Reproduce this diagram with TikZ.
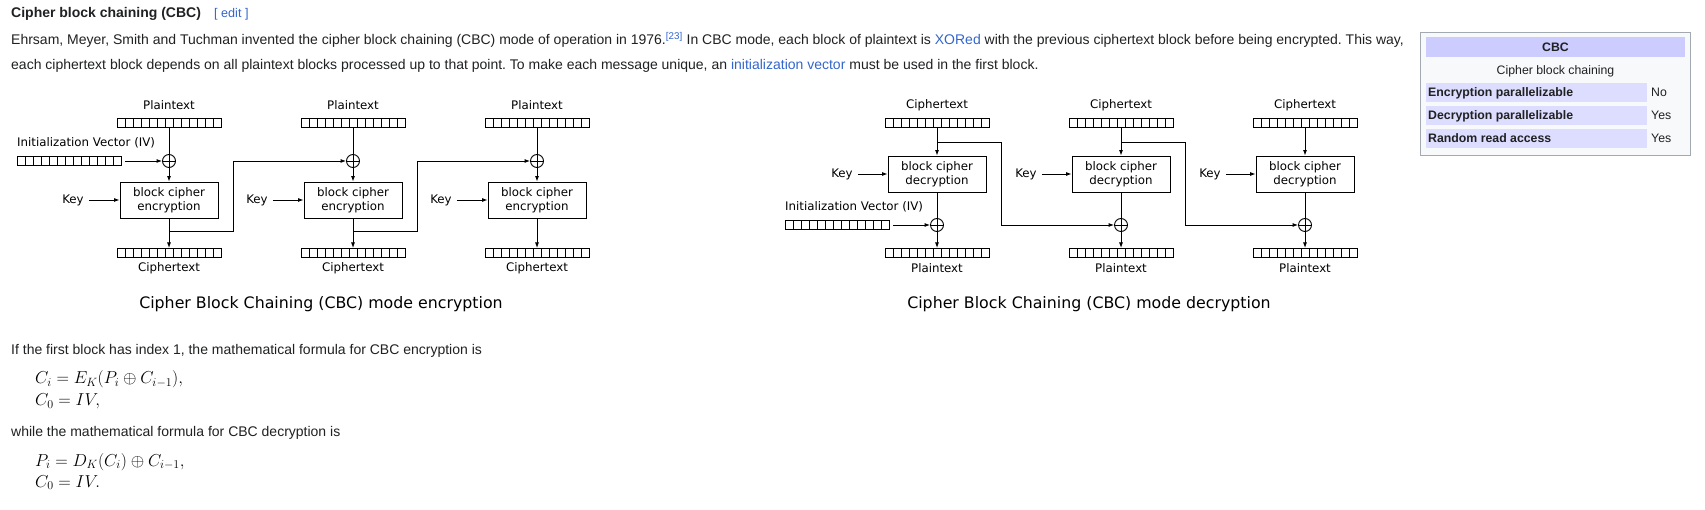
\documentclass[tikz,border=0pt]{standalone}
\usepackage[no-math]{fontspec}
\setmainfont{Liberation Sans}
\newfontfamily\djv{DejaVu Sans}
\usetikzlibrary{arrows.meta}
\frenchspacing
\definecolor{txt}{HTML}{202122}
\definecolor{link}{HTML}{3366CC}
\definecolor{ibborder}{HTML}{A2A9B1}
\definecolor{ibbg}{HTML}{F8F9FA}
\definecolor{ibhead}{HTML}{CCCCFF}
\definecolor{ibrow}{HTML}{DDDDFF}
\tikzset{
  body/.style={anchor=base west, inner sep=0, text=txt, font=\fontsize{14}{16}\selectfont},
  ibtext/.style={inner sep=0, text=txt, font=\fontsize{12.3}{14}\selectfont},
  lbl/.style={inner sep=0, font=\djv\fontsize{11.8}{14}\selectfont},
  captxt/.style={inner sep=0, anchor=base, font=\djv\fontsize{15.8}{18}\selectfont},
  cbox/.style={draw, line width=0.9pt, minimum width=98pt, minimum height=36pt, align=center,
    inner sep=0, font=\djv\fontsize{11.8}{14.5}\selectfont},
  xorn/.style={circle, draw, line width=0.9pt, minimum size=13pt, inner sep=0,
    path picture={\draw[line width=0.9pt] (path picture bounding box.north) -- (path picture bounding box.south)
      (path picture bounding box.west) -- (path picture bounding box.east);}},
  reg/.style={draw, line width=0.8pt, minimum width=104pt, minimum height=9pt, inner sep=0, outer sep=0,
    path picture={\foreach \i in {1,...,12}{\draw[line width=0.8pt]
      ([xshift=\i*8pt]path picture bounding box.south west) -- ([xshift=\i*8pt]path picture bounding box.north west);}}},
  arr/.style={line width=0.9pt, -{Latex[length=5.5pt,width=4pt]}},
  ln/.style={line width=0.9pt},
  mth/.style={anchor=base west, inner sep=0, text=black, font=\fontsize{18.6}{20}\selectfont}
}
\begin{document}
\begin{tikzpicture}[x=1pt,y=-1pt]
\fill[white] (0,0) rectangle (1705,510);
\useasboundingbox (0,0) rectangle (1705,510);

% header and paragraph
\node[body, font=\bfseries\fontsize{14}{16}\selectfont] (hd) at (11,18) {Cipher block chaining (CBC)};
\node[body, text=link, font=\fontsize{12.6}{14}\selectfont] (ed) at (214,18) {[ edit ]};
\node[body] (p1) at (11,45) {Ehrsam, Meyer, Smith and Tuchman invented the cipher block chaining (CBC) mode of operation in 1976.\textsuperscript{\textcolor{link}{[23]}} In CBC mode, each block of plaintext is \textcolor{link}{XORed} with the previous ciphertext block before being encrypted. This way,};
\node[body] (p2) at (11,70) {each ciphertext block depends on all plaintext blocks processed up to that point. To make each message unique, an \textcolor{link}{initialization vector} must be used in the first block.};

% infobox
\draw[ibborder, fill=ibbg, line width=0.8pt] (1420,32) rectangle (1690,155);
\fill[ibhead] (1426,37) rectangle (1685,57);
\fill[ibrow] (1426,83) rectangle (1647,102);
\fill[ibrow] (1426,106) rectangle (1647,125);
\fill[ibrow] (1426,129) rectangle (1647,148);
\node[ibtext, font=\bfseries\fontsize{12.3}{14}\selectfont, anchor=base] (ibh) at (1555.5,51.5) {CBC};
\node[ibtext, anchor=base] (ibs) at (1555.5,74.5) {Cipher block chaining};
\node[ibtext, font=\bfseries\fontsize{12.3}{14}\selectfont, anchor=base west] (r1) at (1428,97) {Encryption parallelizable};
\node[ibtext, font=\bfseries\fontsize{12.3}{14}\selectfont, anchor=base west] (r2) at (1428,120) {Decryption parallelizable};
\node[ibtext, font=\bfseries\fontsize{12.3}{14}\selectfont, anchor=base west] (r3) at (1428,143) {Random read access};
\node[ibtext, anchor=base west] (v1) at (1651,97) {No};
\node[ibtext, anchor=base west] (v2) at (1651,120) {Yes};
\node[ibtext, anchor=base west] (v3) at (1651,143) {Yes};

% encryption diagram
\node[lbl, anchor=west] (ivl) at (17,143) {Initialization Vector (IV)};
\node[reg] (iv) at (69,161) {};
\foreach \k/\c in {1/169,2/353,3/537}{
  \node[lbl] (p\k) at (\c,105) {Plaintext};
  \node[reg] (pb\k) at (\c,122.5) {};
  \node[xorn] (x\k) at (\c,161) {};
  \node[cbox] (e\k) at (\c,200) {block cipher\\encryption};
  \node[lbl] (k\k) at (\c-96,200) {Key};
  \node[reg] (cb\k) at (\c,252.5) {};
  \node[lbl] (c\k) at (\c,268) {Ciphertext};
  \draw[ln] (pb\k) -- (x\k);
  \draw[arr] (x\k) -- (e\k);
  \draw[arr] ([xshift=5pt]k\k.east) -- (e\k);
  \draw[arr] (e\k) -- (cb\k);
}
\draw[arr] ([xshift=4pt]iv.east) -- (x1);
\coordinate (j1) at (169,231); \coordinate (t1) at (233,161);
\coordinate (j2) at (353,231); \coordinate (t2) at (417,161);
\draw[arr] (j1) -| (t1) -- (x2);
\draw[arr] (j2) -| (t2) -- (x3);
\node[captxt] (capE) at (321,308.5) {Cipher Block Chaining (CBC) mode encryption};

% decryption diagram
\node[lbl, anchor=west] (divl) at (785,207) {Initialization Vector (IV)};
\node[reg] (div) at (837,225) {};
\foreach \k/\c in {1/937,2/1121,3/1305}{
  \node[lbl] (dc\k) at (\c,105) {Ciphertext};
  \node[reg] (dcb\k) at (\c,122.5) {};
  \node[cbox] (d\k) at (\c,174) {block cipher\\decryption};
  \node[lbl] (dk\k) at (\c-95,174) {Key};
  \node[xorn] (dx\k) at (\c,225) {};
  \node[reg] (dpb\k) at (\c,252.5) {};
  \node[lbl] (dp\k) at (\c,268) {Plaintext};
  \draw[arr] (dcb\k) -- (d\k);
  \draw[arr] ([xshift=5pt]dk\k.east) -- (d\k);
  \draw[ln] (d\k) -- (dx\k);
  \draw[arr] (dx\k) -- (dpb\k);
}
\draw[arr] ([xshift=4pt]div.east) -- (dx1);
\coordinate (dj1) at (937,142); \coordinate (dt1) at (1001,142);
\coordinate (dj2) at (1121,142); \coordinate (dt2) at (1185,142);
\draw[arr] (dj1) -- (dt1) |- (dx2);
\draw[arr] (dj2) -- (dt2) |- (dx3);
\node[captxt] (capD) at (1089,308.5) {Cipher Block Chaining (CBC) mode decryption};

% formulas
\node[body] (f1) at (11,355) {If the first block has index 1, the mathematical formula for CBC encryption is};
\node[mth] (m1) at (35,384) {$C_i = E_K(P_i \oplus C_{i-1}),$};
\node[mth] (m2) at (35,406) {$C_0 = IV,$};
\node[body] (f2) at (11,436) {while the mathematical formula for CBC decryption is};
\node[mth] (m3) at (35,466) {$P_i = D_K(C_i) \oplus C_{i-1},$};
\node[mth] (m4) at (35,487) {$C_0 = IV.$};
\end{tikzpicture}
\end{document}
